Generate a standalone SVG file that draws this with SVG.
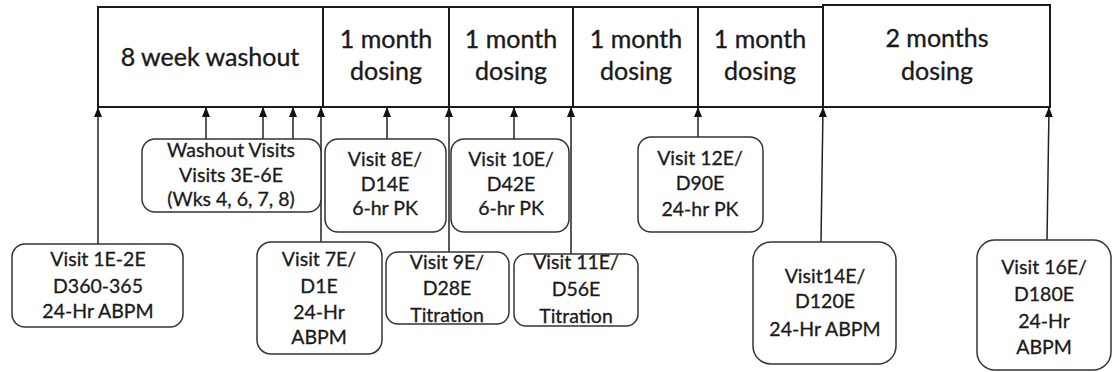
<svg xmlns="http://www.w3.org/2000/svg" width="1112" height="372" viewBox="0 0 1112 372">
<style>
.bar{fill:#fff;stroke:#1a1a1a;stroke-width:2}
.box{fill:#fff;stroke:#333;stroke-width:1.5}
.ph{font-family:Lato,"Liberation Sans",sans-serif;font-size:25px;fill:#1a1a1a;stroke:#1a1a1a;stroke-width:0.35;text-anchor:middle}
.t{font-family:Lato,"Liberation Sans",sans-serif;font-size:19.5px;fill:#1a1a1a;stroke:#1a1a1a;stroke-width:0.3;text-anchor:middle}
.c{stroke:#222;stroke-width:1.5;fill:none;marker-end:url(#ah)}
</style>
<defs>
<marker id="ah" viewBox="0 0 10 8" refX="9" refY="4" markerWidth="10" markerHeight="8" markerUnits="userSpaceOnUse" orient="auto">
<path d="M10 4 L0 0 L0 8 Z" fill="#111"/>
</marker>
</defs>
<rect width="1112" height="372" fill="#fff"/>
<g id="timeline">
<rect class="bar" x="98" y="7" width="225" height="100"/>
<rect class="bar" x="323" y="7" width="126" height="100"/>
<rect class="bar" x="449" y="7" width="124" height="100"/>
<rect class="bar" x="573" y="7" width="125" height="100"/>
<rect class="bar" x="698" y="7" width="125" height="100"/>
<rect class="bar" x="823" y="5" width="227" height="102"/>
<text class="ph" x="210" y="66">8 week washout</text>
<text class="ph" x="386" y="48">1 month</text>
<text class="ph" x="386" y="80">dosing</text>
<text class="ph" x="511" y="48">1 month</text>
<text class="ph" x="511" y="80">dosing</text>
<text class="ph" x="636" y="48">1 month</text>
<text class="ph" x="636" y="80">dosing</text>
<text class="ph" x="760" y="48">1 month</text>
<text class="ph" x="760" y="80">dosing</text>
<text class="ph" x="937" y="47">2 months</text>
<text class="ph" x="937" y="80">dosing</text>
</g>
<g id="connectors">
<path class="c" d="M98 244 V108"/>
<path class="c" d="M206 139 V108"/>
<path class="c" d="M263 139 V108"/>
<path class="c" d="M293 139 V108"/>
<path class="c" d="M321 242 V108"/>
<path class="c" d="M387 139 V108"/>
<path class="c" d="M449 252 V108"/>
<path class="c" d="M514 139 V108"/>
<path class="c" d="M571 254 V108"/>
<path class="c" d="M698 137 V108"/>
<path class="c" d="M821 242 L823 108"/>
<path class="c" d="M1047 240 L1049 108"/>
</g>
<g id="washout-visits">
<rect class="box" x="142" y="139" width="179" height="73" rx="13"/>
<text class="t" x="231" y="157">Washout Visits</text>
<text class="t" x="231" y="182">Visits 3E-6E</text>
<text class="t" x="231" y="206">(Wks 4, 6, 7, 8)</text>
</g>
<g id="visit-8e">
<rect class="box" x="325" y="139" width="121" height="93" rx="13"/>
<text class="t" x="385" y="166">Visit 8E/</text>
<text class="t" x="385" y="191">D14E</text>
<text class="t" x="385" y="215">6-hr PK</text>
</g>
<g id="visit-10e">
<rect class="box" x="451" y="139" width="118" height="93" rx="13"/>
<text class="t" x="511" y="166">Visit 10E/</text>
<text class="t" x="511" y="191">D42E</text>
<text class="t" x="511" y="215">6-hr PK</text>
</g>
<g id="visit-12e">
<rect class="box" x="638" y="137" width="125" height="95" rx="13"/>
<text class="t" x="700" y="165">Visit 12E/</text>
<text class="t" x="700" y="190">D90E</text>
<text class="t" x="700" y="216">24-hr PK</text>
</g>
<g id="visit-1e-2e">
<rect class="box" x="12" y="244" width="171" height="83" rx="13"/>
<text class="t" x="98" y="266">Visit 1E-2E</text>
<text class="t" x="98" y="293">D360-365</text>
<text class="t" x="98" y="318">24-Hr ABPM</text>
</g>
<g id="visit-7e">
<rect class="box" x="257" y="242" width="125" height="112" rx="14"/>
<text class="t" x="319" y="266">Visit 7E/</text>
<text class="t" x="319" y="293">D1E</text>
<text class="t" x="319" y="319">24-Hr</text>
<text class="t" x="319" y="344">ABPM</text>
</g>
<g id="visit-9e">
<rect class="box" x="386" y="252" width="123" height="72" rx="12"/>
<text class="t" x="447" y="269">Visit 9E/</text>
<text class="t" x="447" y="295">D28E</text>
<text class="t" x="447" y="322">Titration</text>
</g>
<g id="visit-11e">
<rect class="box" x="514" y="254" width="124" height="72" rx="12"/>
<text class="t" x="576" y="269">Visit 11E/</text>
<text class="t" x="576" y="296">D56E</text>
<text class="t" x="576" y="323">Titration</text>
</g>
<g id="visit-14e">
<rect class="box" x="753" y="242" width="143" height="122" rx="18"/>
<text class="t" x="825" y="283">Visit14E/</text>
<text class="t" x="825" y="308">D120E</text>
<text class="t" x="825" y="336">24-Hr ABPM</text>
</g>
<g id="visit-16e">
<rect class="box" x="977" y="240" width="134" height="130" rx="18"/>
<text class="t" x="1044" y="274">Visit 16E/</text>
<text class="t" x="1044" y="301">D180E</text>
<text class="t" x="1044" y="328">24-Hr</text>
<text class="t" x="1044" y="354">ABPM</text>
</g>
</svg>
